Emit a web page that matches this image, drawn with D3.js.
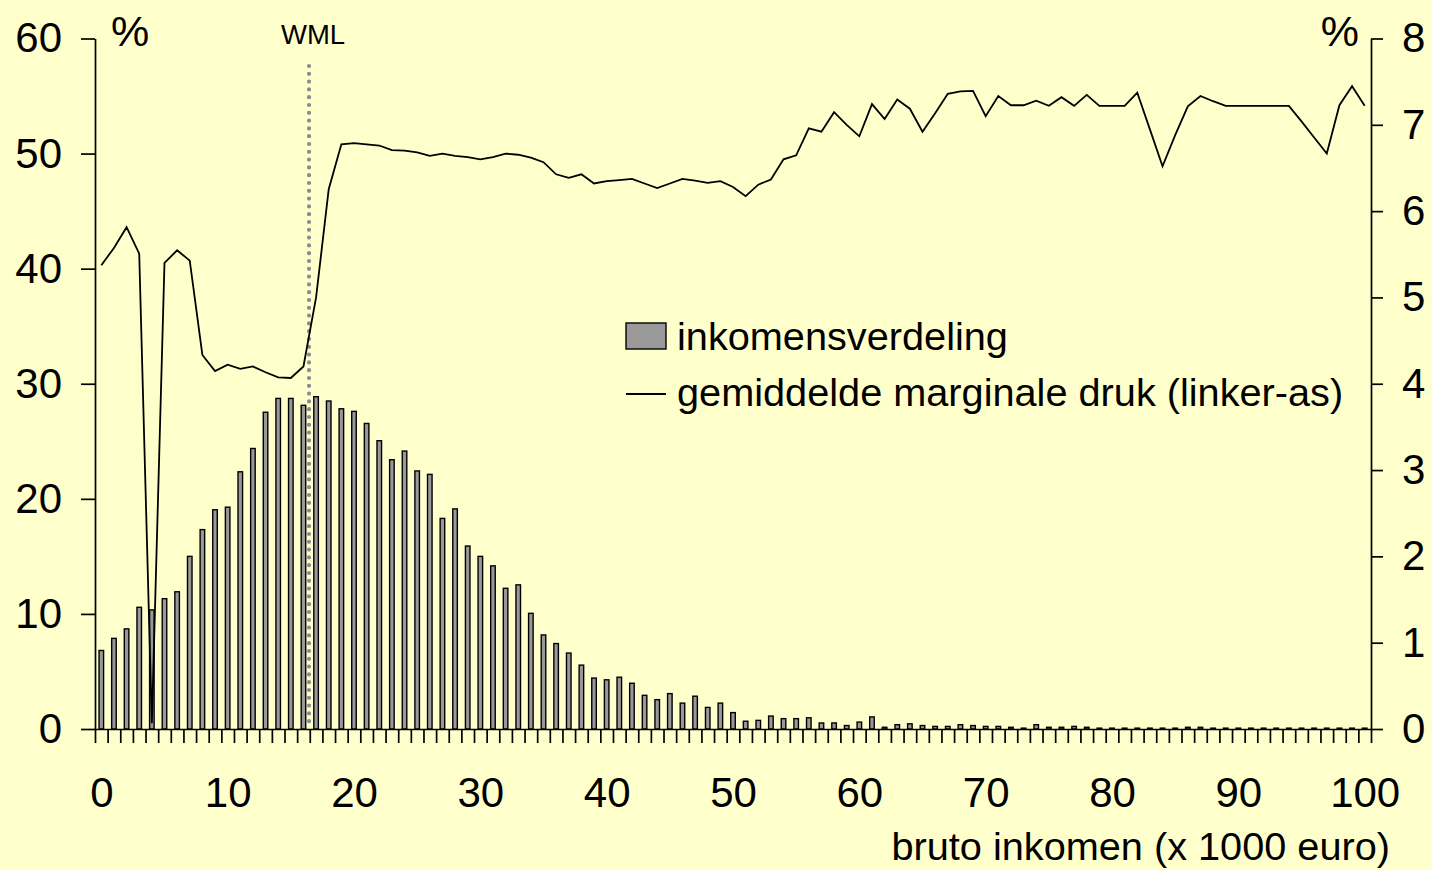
<!DOCTYPE html>
<html>
<head>
<meta charset="utf-8">
<script src="https://cdn.jsdelivr.net/npm/d3@7"></script>
<style>
	body { margin: 0; background: #ffffcc; }
	text { font-family: "Liberation Sans", Arial, sans-serif; fill: #000; }
</style>
</head>
<body>
<div id="root"></div>
<script>
// Income classes (x 1000 euro), one bar per class
var incomes = d3.range(0, 101);

// Income distribution, % of households (right axis)
var distribution = [0.91, 1.05, 1.16, 1.41, 1.38, 1.51, 1.59, 2.00, 2.31, 2.54,
	2.57, 2.98, 3.25, 3.67, 3.83, 3.83, 3.75, 3.85, 3.80, 3.71,
	3.68, 3.54, 3.34, 3.12, 3.22, 2.99, 2.95, 2.44, 2.55, 2.12,
	2.00, 1.89, 1.63, 1.67, 1.34, 1.09, 0.99, 0.88, 0.74, 0.59,
	0.57, 0.60, 0.53, 0.39, 0.34, 0.41, 0.30, 0.38, 0.25, 0.30,
	0.19, 0.09, 0.10, 0.15, 0.12, 0.12, 0.13, 0.07, 0.07, 0.04,
	0.08, 0.14, 0.02, 0.05, 0.06, 0.04, 0.03, 0.03, 0.05, 0.04,
	0.03, 0.03, 0.02, 0.01, 0.05, 0.02, 0.02, 0.03, 0.02, 0.01,
	0.01, 0.01, 0.01, 0.01, 0.01, 0.01, 0.02, 0.02, 0.01, 0.01,
	0.01, 0.01, 0.01, 0.01, 0.01, 0.01, 0.01, 0.01, 0.01, 0.01,
	0.01];

// Average marginal pressure, % (left axis)
var marginal = [40.3, 41.8, 43.6, 41.3, 0.5, 40.5, 41.6, 40.7, 32.5, 31.1,
	31.65, 31.3, 31.5, 31.0, 30.55, 30.5, 31.5, 37.5, 46.9, 50.8,
	50.9, 50.8, 50.7, 50.3, 50.26, 50.1, 49.8, 50.0, 49.8, 49.7,
	49.5, 49.7, 50.0, 49.9, 49.65, 49.25, 48.2, 47.9, 48.2, 47.4,
	47.6, 47.7, 47.8, 47.4, 47.0, 47.4, 47.8, 47.65, 47.45, 47.6,
	47.1, 46.3, 47.3, 47.75, 49.5, 49.85, 52.2, 51.9, 53.6, 52.5,
	51.5, 54.3, 53.0, 54.7, 53.9, 51.9, 53.5, 55.2, 55.4, 55.45,
	53.25, 55.0, 54.2, 54.2, 54.6, 54.15, 54.9, 54.15, 55.1, 54.15,
	54.15, 54.15, 55.3, 52.1, 48.9, 51.6, 54.1, 55.0, 54.55, 54.15,
	54.15, 54.15, 54.15, 54.15, 54.15, 52.8, 51.4, 50.0, 54.2, 55.85,
	54.15];

// Minimum wage (WML) position on the income axis
var wml = 16.44;

var xTicks = [0, 10, 20, 30, 40, 50, 60, 70, 80, 90, 100];
var leftTicks = [0, 10, 20, 30, 40, 50, 60];
var rightTicks = [0, 1, 2, 3, 4, 5, 6, 7, 8];

// Dimensions
var W = 1432, H = 870;
var plotLeft = 95, plotRight = 1371, plotTop = 38.5, plotBottom = 729;

var svg = d3.select("#root")
	.append("svg")
	.attr("width", W)
	.attr("height", H);

svg.append("rect")
	.attr("width", W)
	.attr("height", H)
	.attr("fill", "#ffffcc");

// Scales
var x = d3.scaleBand()
	.domain(incomes)
	.range([plotLeft, plotRight])
	.paddingInner(0.64)
	.paddingOuter(0.32);

var xLin = d3.scaleLinear()
	.domain([-0.5, 100.5])
	.range([plotLeft, plotRight]);

var xEdge = d3.scaleLinear()
	.domain([0, 101])
	.range([plotLeft, plotRight]);

var yLeft = d3.scaleLinear()
	.domain([0, 60])
	.range([plotBottom, plotTop]);

var yRight = d3.scaleLinear()
	.domain([0, 8])
	.range([plotBottom, plotTop]);

// Bars
svg.selectAll(".bar")
	.data(incomes)
	.enter().append("rect")
	.attr("class", "bar")
	.attr("x", function (d) { return x(d); })
	.attr("y", function (d, i) { return yRight(distribution[i]); })
	.attr("width", x.bandwidth())
	.attr("height", function (d, i) { return plotBottom - yRight(distribution[i]); })
	.attr("fill", "#999999")
	.attr("stroke", "#000")
	.attr("stroke-width", 1.4);

// WML dotted line
svg.append("line")
	.attr("x1", xLin(wml))
	.attr("x2", xLin(wml))
	.attr("y1", 66)
	.attr("y2", plotBottom)
	.attr("stroke", "#8a8a96")
	.attr("stroke-width", 4.2)
	.attr("stroke-linecap", "round")
	.attr("stroke-dasharray", "0 7.8");

svg.append("text")
	.attr("x", xLin(wml) + 4)
	.attr("y", 44)
	.attr("text-anchor", "middle")
	.attr("font-size", 27.5)
	.text("WML");

// Marginal pressure line
var line = d3.line()
	.x(function (d, i) { return xLin(incomes[i]); })
	.y(function (d) { return yLeft(d); });

svg.append("path")
	.datum(marginal)
	.attr("d", line)
	.attr("fill", "none")
	.attr("stroke", "#000")
	.attr("stroke-width", 1.8)
	.attr("stroke-linejoin", "miter");

// X axis: ticks between the classes
var xEdgeAxis = svg.append("g")
	.attr("transform", "translate(0," + plotBottom + ")")
	.call(d3.axisBottom(xEdge).tickValues(d3.range(0, 102)).tickSize(14).tickSizeOuter(0).tickFormat(""));

// X axis labels
var xLabelAxis = svg.append("g")
	.attr("transform", "translate(0," + plotBottom + ")")
	.call(d3.axisBottom(xLin).tickValues(xTicks).tickSize(0).tickPadding(48));
xLabelAxis.select(".domain").remove();

// Left axis
var yLeftAxis = svg.append("g")
	.attr("transform", "translate(" + plotLeft + ",0)")
	.call(d3.axisLeft(yLeft).tickValues(leftTicks).tickSize(14).tickSizeOuter(0).tickPadding(19));

// Right axis
var yRightAxis = svg.append("g")
	.attr("transform", "translate(" + plotRight + ",0)")
	.call(d3.axisRight(yRight).tickValues(rightTicks).tickSize(12).tickSizeOuter(0).tickPadding(19));

svg.selectAll(".tick text")
	.attr("font-size", 42)
	.attr("font-family", "'Liberation Sans', Arial, sans-serif")
	.attr("fill", "#000");

svg.selectAll(".domain, .tick line")
	.attr("stroke", "#000")
	.attr("stroke-width", 1.7);

// Units
svg.append("text")
	.attr("x", 111)
	.attr("y", 46)
	.attr("font-size", 43)
	.text("%");

svg.append("text")
	.attr("x", 1359)
	.attr("y", 46)
	.attr("text-anchor", "end")
	.attr("font-size", 43)
	.text("%");

// X axis title
svg.append("text")
	.attr("x", 1390)
	.attr("y", 860)
	.attr("text-anchor", "end")
	.attr("font-size", 39.7)
	.text("bruto inkomen (x 1000 euro)");

// Legend
svg.append("rect")
	.attr("x", 626)
	.attr("y", 323)
	.attr("width", 40)
	.attr("height", 26)
	.attr("fill", "#999999")
	.attr("stroke", "#000")
	.attr("stroke-width", 1.4);

svg.append("text")
	.attr("x", 677)
	.attr("y", 350)
	.attr("font-size", 39.7)
	.text("inkomensverdeling");

svg.append("line")
	.attr("x1", 626)
	.attr("x2", 666)
	.attr("y1", 394)
	.attr("y2", 394)
	.attr("stroke", "#000")
	.attr("stroke-width", 1.8);

svg.append("text")
	.attr("x", 677)
	.attr("y", 406)
	.attr("font-size", 39.7)
	.text("gemiddelde marginale druk (linker-as)");
</script>
</body>
</html>
